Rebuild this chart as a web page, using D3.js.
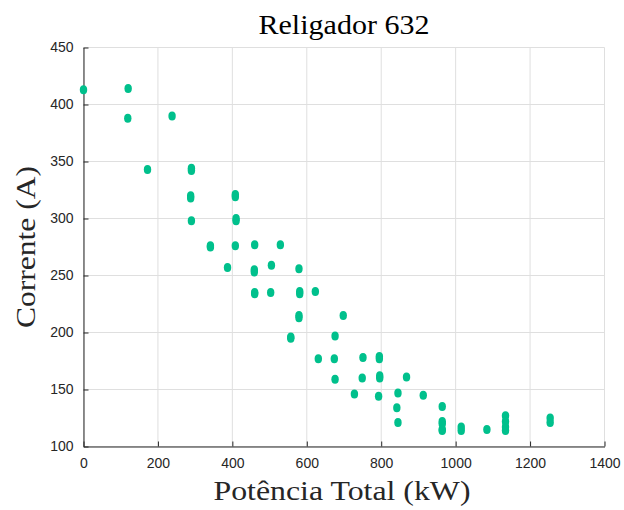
<!DOCTYPE html>
<html>
<head>
<meta charset="utf-8">
<script src="https://cdn.jsdelivr.net/npm/d3@7"></script>
<style>
  body { margin: 0; background: #fff; }
</style>
</head>
<body>
<div id="chart"></div>
<script>
// Potência total (kW) and corrente (A)
const potencia = [
  0, 120, 119, 238, 172, 290, 290, 288, 288, 408, 408, 290, 410, 410,
  341, 341, 408, 460, 529, 387, 459, 459, 505, 579, 460, 460, 503, 581, 581, 623,
  579, 579, 698, 557, 557, 676, 631, 674, 751, 795, 795, 676, 749, 796, 796, 868,
  728, 793, 845, 842, 845, 913, 964, 964, 964, 964, 964, 1015, 1015, 1084,
  1134, 1134, 1134, 1134, 1254, 1254
];
const corrente = [
  413, 414, 388, 390, 343, 344, 342, 320, 318, 321, 319, 298, 300, 298,
  276, 275, 276, 277, 277, 257, 255, 253, 259, 256, 234, 235, 235, 236, 234, 236,
  215, 213, 215, 196, 195, 197, 177, 177, 178, 179, 177, 159, 160, 162, 160, 161,
  146, 144, 147, 134, 121, 145, 135, 122, 120, 115, 114, 117, 114, 115,
  127, 122, 117, 114, 125, 121
];
const xTicks = [0, 200, 400, 600, 800, 1000, 1200, 1400];
const yTicks = [100, 150, 200, 250, 300, 350, 400, 450];

const width = 624;
const height = 510;
const margin = { left: 83.5, right: 19.5, top: 47.5, bottom: 63.5 };
const markerColor = "#00c08c";
const axisColor = "#262626";
const serif = '"Liberation Serif"';
const sans = '"Liberation Sans"';

const svg = d3.select("#chart")
  .append("svg")
  .attr("width", width)
  .attr("height", height);

const x = d3.scaleLinear().domain([0, 1400]).range([margin.left, width - margin.right]);
const y = d3.scaleLinear().domain([100, 450]).range([height - margin.bottom, margin.top]);

// grid
svg.append("g")
  .selectAll("line")
  .data(xTicks)
  .join("line")
  .attr("x1", d => x(d)).attr("x2", d => x(d))
  .attr("y1", y(100)).attr("y2", y(450))
  .attr("stroke", "#dfdfdf").attr("stroke-width", 1);

svg.append("g")
  .selectAll("line")
  .data(yTicks)
  .join("line")
  .attr("x1", x(0)).attr("x2", x(1400))
  .attr("y1", d => y(d)).attr("y2", d => y(d))
  .attr("stroke", "#dfdfdf").attr("stroke-width", 1);

// axes (ticks inward, MATLAB style)
const xAxis = svg.append("g")
  .attr("transform", `translate(0,${y(100)})`)
  .call(d3.axisBottom(x).tickValues(xTicks).tickFormat(d3.format("d"))
    .tickSizeInner(-5).tickSizeOuter(0).tickPadding(12));

const yAxis = svg.append("g")
  .attr("transform", `translate(${x(0)},0)`)
  .call(d3.axisLeft(y).tickValues(yTicks).tickFormat(d3.format("d"))
    .tickSizeInner(-5).tickSizeOuter(0).tickPadding(10));

[xAxis, yAxis].forEach(g => {
  g.select(".domain").attr("stroke", axisColor).attr("stroke-width", 1);
  g.selectAll(".tick line").attr("stroke", axisColor);
  g.selectAll(".tick text")
    .attr("fill", axisColor)
    .style("font-family", sans)
    .style("font-size", "14px");
});

// points
svg.append("g")
  .selectAll("ellipse")
  .data(potencia.map((p, i) => [p, corrente[i]]))
  .join("ellipse")
  .attr("cx", d => x(d[0]))
  .attr("cy", d => y(d[1]))
  .attr("rx", 3.7)
  .attr("ry", 4.5)
  .attr("fill", markerColor);

// title and labels
svg.append("text")
  .attr("x", 344)
  .attr("y", 34)
  .attr("text-anchor", "middle")
  .attr("textLength", 171)
  .attr("lengthAdjust", "spacingAndGlyphs")
  .style("font-family", serif)
  .style("font-size", "28px")
  .attr("fill", "#000")
  .text("Religador 632");

svg.append("text")
  .attr("x", 342)
  .attr("y", 500)
  .attr("text-anchor", "middle")
  .attr("textLength", 257)
  .attr("lengthAdjust", "spacingAndGlyphs")
  .style("font-family", serif)
  .style("font-size", "28px")
  .attr("fill", axisColor)
  .text("Potência Total (kW)");

svg.append("text")
  .attr("transform", `translate(35,${y(275)}) rotate(-90)`)
  .attr("text-anchor", "middle")
  .attr("textLength", 162)
  .attr("lengthAdjust", "spacingAndGlyphs")
  .style("font-family", serif)
  .style("font-size", "28px")
  .attr("fill", axisColor)
  .text("Corrente (A)");
</script>
</body>
</html>
